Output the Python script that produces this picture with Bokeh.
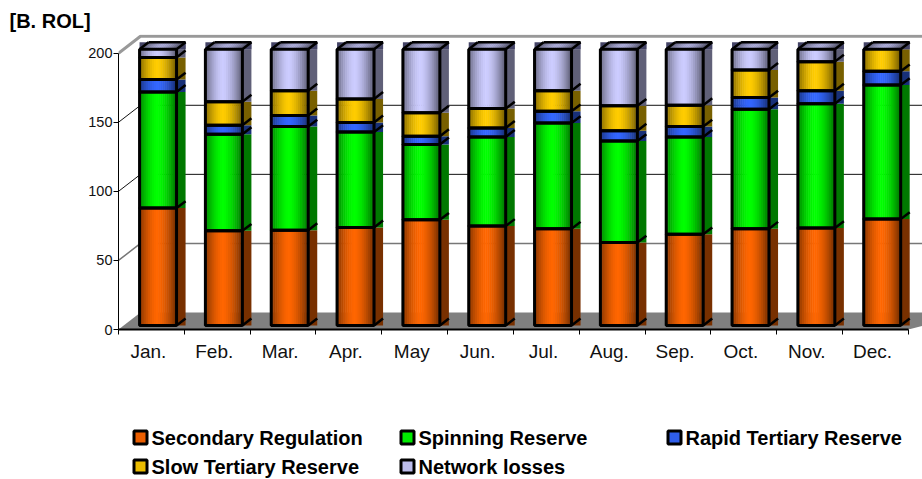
from bokeh.plotting import figure
from bokeh.layouts import column
from bokeh.core.properties import value
from bokeh.models import FixedTicker, Range1d
from bokeh.embed import file_html
from bokeh.resources import INLINE

months = ["Jan.", "Feb.", "Mar.", "Apr.", "May", "Jun.", "Jul.", "Aug.", "Sep.", "Oct.", "Nov.", "Dec."]
series_names = ["Secondary Regulation", "Spinning Reserve", "Rapid Tertiary Reserve", "Slow Tertiary Reserve", "Network losses"]
series_colors = [(255, 102, 0), (0, 255, 0), (51, 102, 255), (255, 204, 0), (204, 204, 255)]

secondary = [85, 68.5, 69, 71, 76.5, 72, 70, 60, 66, 70, 70.5, 77]
spinning = [84, 70, 75, 69, 54.5, 64.5, 76.5, 73.5, 70.5, 86.5, 90, 97]
rapid = [9, 6.5, 8, 7, 6, 6.5, 8.5, 7.5, 7.5, 8.5, 9.5, 10]
slow = [16, 17, 18, 17, 17, 14, 15, 18, 15.5, 20, 21, 16]
losses = [6, 38, 30, 36, 46, 43, 30, 41, 40.5, 15, 9, 0]
stack = [secondary, spinning, rapid, slow, losses]

y_ticks = [0, 50, 100, 150, 200]
unit_title = "[B. ROL]"

# Oblique projection constants, in data units
WALL_DX, WALL_DY = 0.334, 12.3
BAR_LEFT, BAR_WIDTH = 0.32, 0.562
BAR_BASE = 2.9
DEPTH_X, DEPTH_Y = 0.137, 5.0
STRIPS = 18
FONT = value("Liberation Sans")


def shade(rgb, k):
    return "#%02x%02x%02x" % tuple(int(round(c * k)) for c in rgb)


def sheen(t):
    # Cylinder-like brightness across a bar face
    d = abs(t - 0.47) / 0.53
    return max(0.45, 1.0 - 0.58 * d ** 1.6)


def text_strip(width, height):
    # Plain panel in pixel coordinates, with y running downward
    f = figure(width=width, height=height, output_backend="svg", toolbar_location=None,
               x_range=Range1d(0, width), y_range=Range1d(height, 0), frame_align=False,
               min_border=0, outline_line_color=None, border_fill_color="white")
    f.axis.visible = False
    f.grid.visible = False
    return f


# Unit caption above the plot
head = text_strip(922, 34)
head.text([9], [20], text=[unit_title], text_font=FONT, text_font_style="bold", text_font_size="20px",
          text_color="black", text_baseline="middle", text_align="left")

p = figure(width=922, height=385, output_backend="svg", toolbar_location=None, frame_align=False,
           x_range=Range1d(0, 804 / 65.83), y_range=Range1d(0, 295 / 1.3815),
           min_border_left=118, min_border_right=0, min_border_top=0, min_border_bottom=90,
           outline_line_color=None, background_fill_color="white", border_fill_color="white")
p.grid.visible = False

# Axes
p.xaxis.bounds = (0, 12)
p.xaxis.ticker = FixedTicker(ticks=[i + 0.455 for i in range(12)], minor_ticks=list(range(13)))
p.xaxis.major_label_overrides = {i + 0.455: m for i, m in enumerate(months)}
p.xaxis.major_tick_line_color = None
p.xaxis.minor_tick_out = 5
p.xaxis.minor_tick_in = 0
p.xaxis.minor_tick_line_color = "black"
p.xaxis.axis_line_color = "black"
p.xaxis.axis_line_width = 2
p.xaxis.major_label_text_font = "Liberation Sans"
p.xaxis.major_label_text_font_size = "19px"
p.xaxis.major_label_text_color = "#111111"
p.xaxis.major_label_standoff = 5
p.xaxis.major_label_text_font_style = "normal"

p.yaxis.bounds = (0, 200)
p.yaxis.ticker = FixedTicker(ticks=y_ticks)
p.yaxis.major_tick_out = 5
p.yaxis.major_tick_in = 0
p.yaxis.minor_tick_line_color = None
p.yaxis.axis_line_color = "black"
p.yaxis.major_label_text_font = "Liberation Sans"
p.yaxis.major_label_text_font_size = "14.5px"
p.yaxis.major_label_text_color = "#111111"
p.yaxis.major_label_standoff = 1

# Floor and back wall
p.patch([0, WALL_DX, 13, 12], [0, WALL_DY, WALL_DY, 0], fill_color="#808080", line_color=None)
for t in y_ticks[1:]:
    col, w = ("#999999", 3) if t == 200 else ("#777777", 1.5) if t == 50 else ("#111111", 1)
    p.line([0, WALL_DX, 13], [t, t + WALL_DY, t + WALL_DY], line_color=col, line_width=w)

# Bars: side faces, roof, front faces, then edges
seg_left, seg_right, seg_bottom, seg_top, seg_col = [], [], [], [], []
side_l, side_r, side_b, side_t, side_c = [], [], [], [], []
front_l, front_r, front_b, front_t = [], [], [], []
diag_x0, diag_y0, diag_x1, diag_y1 = [], [], [], []
cap_xs, cap_ys, cap_c = [], [], []
cap_back_l, cap_back_r, cap_back_b, cap_back_t = [], [], [], []


def add_diagonal(x, y):
    diag_x0.append(x)
    diag_y0.append(y)
    diag_x1.append(x + DEPTH_X)
    diag_y1.append(y + DEPTH_Y)


for i in range(12):
    left = i + BAR_LEFT
    right = left + BAR_WIDTH
    level = BAR_BASE
    add_diagonal(right, level)
    for s in range(5):
        v = stack[s][i]
        top = level + v
        if v > 0:
            side_l.append(right)
            side_r.append(right + DEPTH_X)
            side_b.append(level)
            side_t.append(top)
            side_c.append(shade(series_colors[s], 0.47))
            for k in range(STRIPS):
                seg_left.append(left + BAR_WIDTH * k / STRIPS)
                seg_right.append(left + BAR_WIDTH * (k + 1.25) / STRIPS)
                seg_bottom.append(level)
                seg_top.append(top)
                seg_col.append(shade(series_colors[s], sheen((k + 0.5) / STRIPS)))
            front_l.append(left)
            front_r.append(right)
            front_b.append(level)
            front_t.append(top)
            if sum(stack[q][i] for q in range(s + 1, 5)) > 0:
                add_diagonal(right, top)
        level = top
    # Bar roof
    side_l.append(right)
    side_r.append(right + DEPTH_X)
    side_b.append(level)
    side_t.append(level + DEPTH_Y)
    side_c.append("#55557a")
    cap_back_l.append(left)
    cap_back_r.append(right + DEPTH_X)
    cap_back_b.append(level)
    cap_back_t.append(level + DEPTH_Y)
    for k in range(STRIPS):
        a = left + BAR_WIDTH * k / STRIPS
        b = left + BAR_WIDTH * (k + 1.25) / STRIPS
        cap_xs.append([a, a + DEPTH_X, b + DEPTH_X, b])
        cap_ys.append([level, level + DEPTH_Y, level + DEPTH_Y, level])
        cap_c.append(shade(series_colors[4], 0.85 * sheen((k + 0.5) / STRIPS)))
    add_diagonal(left, level)
    add_diagonal(right, level)
    diag_x0.append(left + DEPTH_X)
    diag_y0.append(level + DEPTH_Y)
    diag_x1.append(right + DEPTH_X)
    diag_y1.append(level + DEPTH_Y)

p.quad(left=side_l, right=side_r, bottom=side_b, top=side_t, fill_color=side_c, line_color=None)
p.quad(left=cap_back_l, right=cap_back_r, bottom=cap_back_b, top=cap_back_t, fill_color="#444466", line_color=None)
p.patches(cap_xs, cap_ys, fill_color=cap_c, line_color=None)
p.quad(left=seg_left, right=seg_right, bottom=seg_bottom, top=seg_top, fill_color=seg_col, line_color=None)
p.segment(diag_x0, diag_y0, diag_x1, diag_y1, line_color="black", line_width=2.5)
p.quad(left=front_l, right=front_r, bottom=front_b, top=front_t, fill_color=None, line_color="black", line_width=3)

# Legend: three columns at a fixed pitch, two rows
key = text_strip(922, 60)
cols = [0, 1, 2, 0, 1]
rows = [0, 0, 0, 1, 1]
key_x = [140 + 267 * c for c in cols]
key_y = [18 + 29 * r for r in rows]
key.rect(key_x, key_y, width=13, height=13, fill_color=[shade(c, 0.92) for c in series_colors],
         line_color="black", line_width=3)
key.text([x + 11 for x in key_x], key_y, text=series_names, text_font=FONT, text_font_style="bold",
         text_font_size="20px", text_color="black", text_baseline="middle", text_align="left")

layout = column(head, p, key, spacing=0)
open("out.html", "w").write(file_html(layout, INLINE))
